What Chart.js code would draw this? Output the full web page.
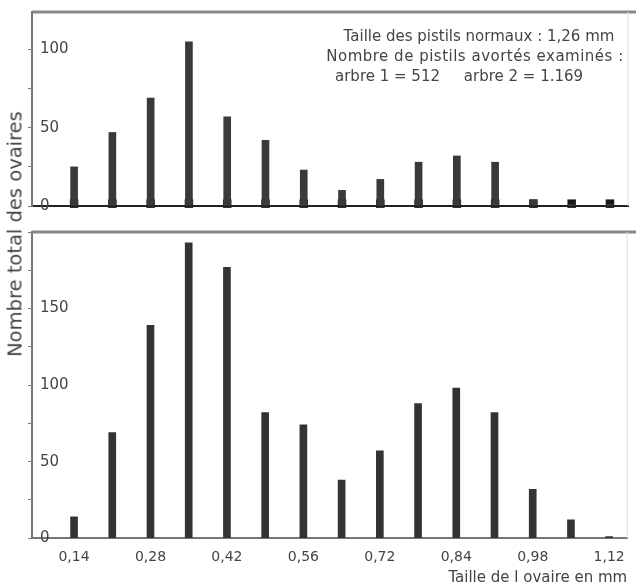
<!DOCTYPE html>
<html>
<head>
<meta charset="utf-8">
<script src="https://cdn.jsdelivr.net/npm/chart.js@4/dist/chart.umd.min.js"></script>
<style>
  body { margin: 0; background: #fff; overflow: hidden; }
  #wrap { position: relative; width: 636px; height: 583px; font-family: "DejaVu Sans", sans-serif; color: #444; }
  canvas { position: absolute; left: 0; }
  #top { top: 0; }
  #bottom { top: 220px; }
  #note { position: absolute; left: 300px; top: 26px; width: 350px; font-size: 15px; line-height: 20px; color: #444; }
  #note .c1 { text-align: center; padding-left: 8px; }
  #note .c2 { text-align: center; letter-spacing: 0.5px; }
  #note .l { padding-left: 35px; }
  #ytitle { position: absolute; left: 15px; top: 234px; transform: translate(-50%, -50%) rotate(-90deg); white-space: nowrap; font-size: 19.5px; color: #444; }
</style>
</head>
<body>
<div id="wrap">
  <canvas id="top" width="636" height="220"></canvas>
  <canvas id="bottom" width="636" height="367"></canvas>
  <div id="note">
    <div class="c1">Taille des pistils normaux : 1,26 mm</div>
    <div class="c2">Nombre de pistils avortés examinés :</div>
    <div class="l">arbre 1 = 512&nbsp;&nbsp;&nbsp;&nbsp;&nbsp;arbre 2 = 1.169</div>
  </div>
  <div id="ytitle">Nombre total des ovaires</div>
</div>
<script>
// ovary size classes (mm) and counts
const sizes = [0.14, 0.21, 0.28, 0.35, 0.42, 0.49, 0.56, 0.63, 0.70, 0.77, 0.84, 0.91, 0.98, 1.05, 1.12];
const arbre1 = [25, 47, 69, 105, 57, 42, 23, 10, 17, 28, 32, 28, 4, 1, 1];
const arbre2 = [14, 69, 139, 193, 177, 82, 74, 38, 57, 88, 98, 82, 32, 12, 1];
const tickValues = [0.14, 0.28, 0.42, 0.56, 0.70, 0.84, 0.98, 1.12];
const tickLabels = ['0,14', '0,28', '0,42', '0,56', '0,72', '0,84', '0,98', '1,12'];

const axisColor = '#777';
const barColor = '#333';

// draws the top and right edges of the frame
const framePlugin = {
    id: 'frame',
    afterDraw(chart) {
        const a = chart.chartArea;
        const c = chart.ctx;
        c.save();
        c.strokeStyle = '#888';
        c.lineWidth = 3;
        c.beginPath();
        c.moveTo(a.left, a.top);
        c.lineTo(chart.width, a.top);
        c.stroke();
        c.strokeStyle = '#ddd';
        c.lineWidth = 1;
        c.beginPath();
        c.moveTo(a.right, a.top);
        c.lineTo(a.right, a.bottom);
        c.stroke();
        c.restore();
    }
};

function yAxis(max) {
    return {
        min: 0,
        max: max,
        afterFit: scale => {
            // labels sit inside the plot, so they take no room
            scale.width = 0;
            scale.paddingTop = 0;
            scale.paddingBottom = 0;
        },
        border: { display: true, color: axisColor, width: 2 },
        grid: { drawOnChartArea: false, drawTicks: true, tickLength: 4, color: axisColor },
        ticks: {
            stepSize: 25,
            includeBounds: false,
            mirror: true,
            padding: 8,
            color: '#444',
            font: { family: 'DejaVu Sans', size: 15 },
            callback: function(v) { return (v % 50 === 0 && v < this.max) ? String(v) : ''; }
        }
    };
}

function xAxis(showLabels) {
    return {
        type: 'linear',
        offset: false,
        min: 0.063,
        max: 1.153,
        border: { display: true, color: showLabels ? axisColor : '#222', width: 2 },
        grid: { display: false, drawTicks: false },
        afterBuildTicks: scale => { scale.ticks = tickValues.map(v => ({ value: v })); },
        ticks: {
            display: showLabels,
            autoSkip: false,
            maxRotation: 0,
            padding: 11,
            color: '#444',
            font: { family: 'DejaVu Sans', size: 14 },
            callback: (v, i) => tickLabels[i]
        },
        title: {
            display: showLabels,
            text: 'Taille de l ovaire en mm',
            align: 'end',
            color: '#444',
            font: { family: 'DejaVu Sans', size: 15 },
            padding: { top: -8, bottom: 0 }
        }
    };
}

const commonPlugins = { legend: { display: false }, tooltip: { enabled: false } };

new Chart(document.getElementById('top'), {
    type: 'bar',
    data: {
        datasets: [{
            data: sizes.map((x, i) => ({ x: x, y: arbre1[i] })),
            backgroundColor: '#3a3a3a',
            barThickness: 7
        }, {
            type: 'scatter',
            data: sizes.map(x => ({ x: x, y: 1.5 })),
            pointStyle: 'rect',
            radius: 6,
            backgroundColor: '#1a1a1a',
            borderWidth: 0,
            clip: false
        }]
    },
    options: {
        responsive: false,
        animation: false,
        layout: { padding: { left: 32, top: 12, right: 8, bottom: 14 } },
        scales: { x: xAxis(false), y: yAxis(124) },
        plugins: commonPlugins
    },
    plugins: [framePlugin]
});

new Chart(document.getElementById('bottom'), {
    type: 'bar',
    data: {
        datasets: [{
            data: sizes.map((x, i) => ({ x: x, y: arbre2[i] })),
            backgroundColor: barColor,
            barThickness: 7
        }]
    },
    options: {
        responsive: false,
        animation: false,
        layout: { padding: { left: 32, top: 12, right: 8, bottom: 0 } },
        scales: { x: xAxis(true), y: yAxis(200) },
        plugins: commonPlugins
    },
    plugins: [framePlugin]
});
</script>
</body>
</html>
